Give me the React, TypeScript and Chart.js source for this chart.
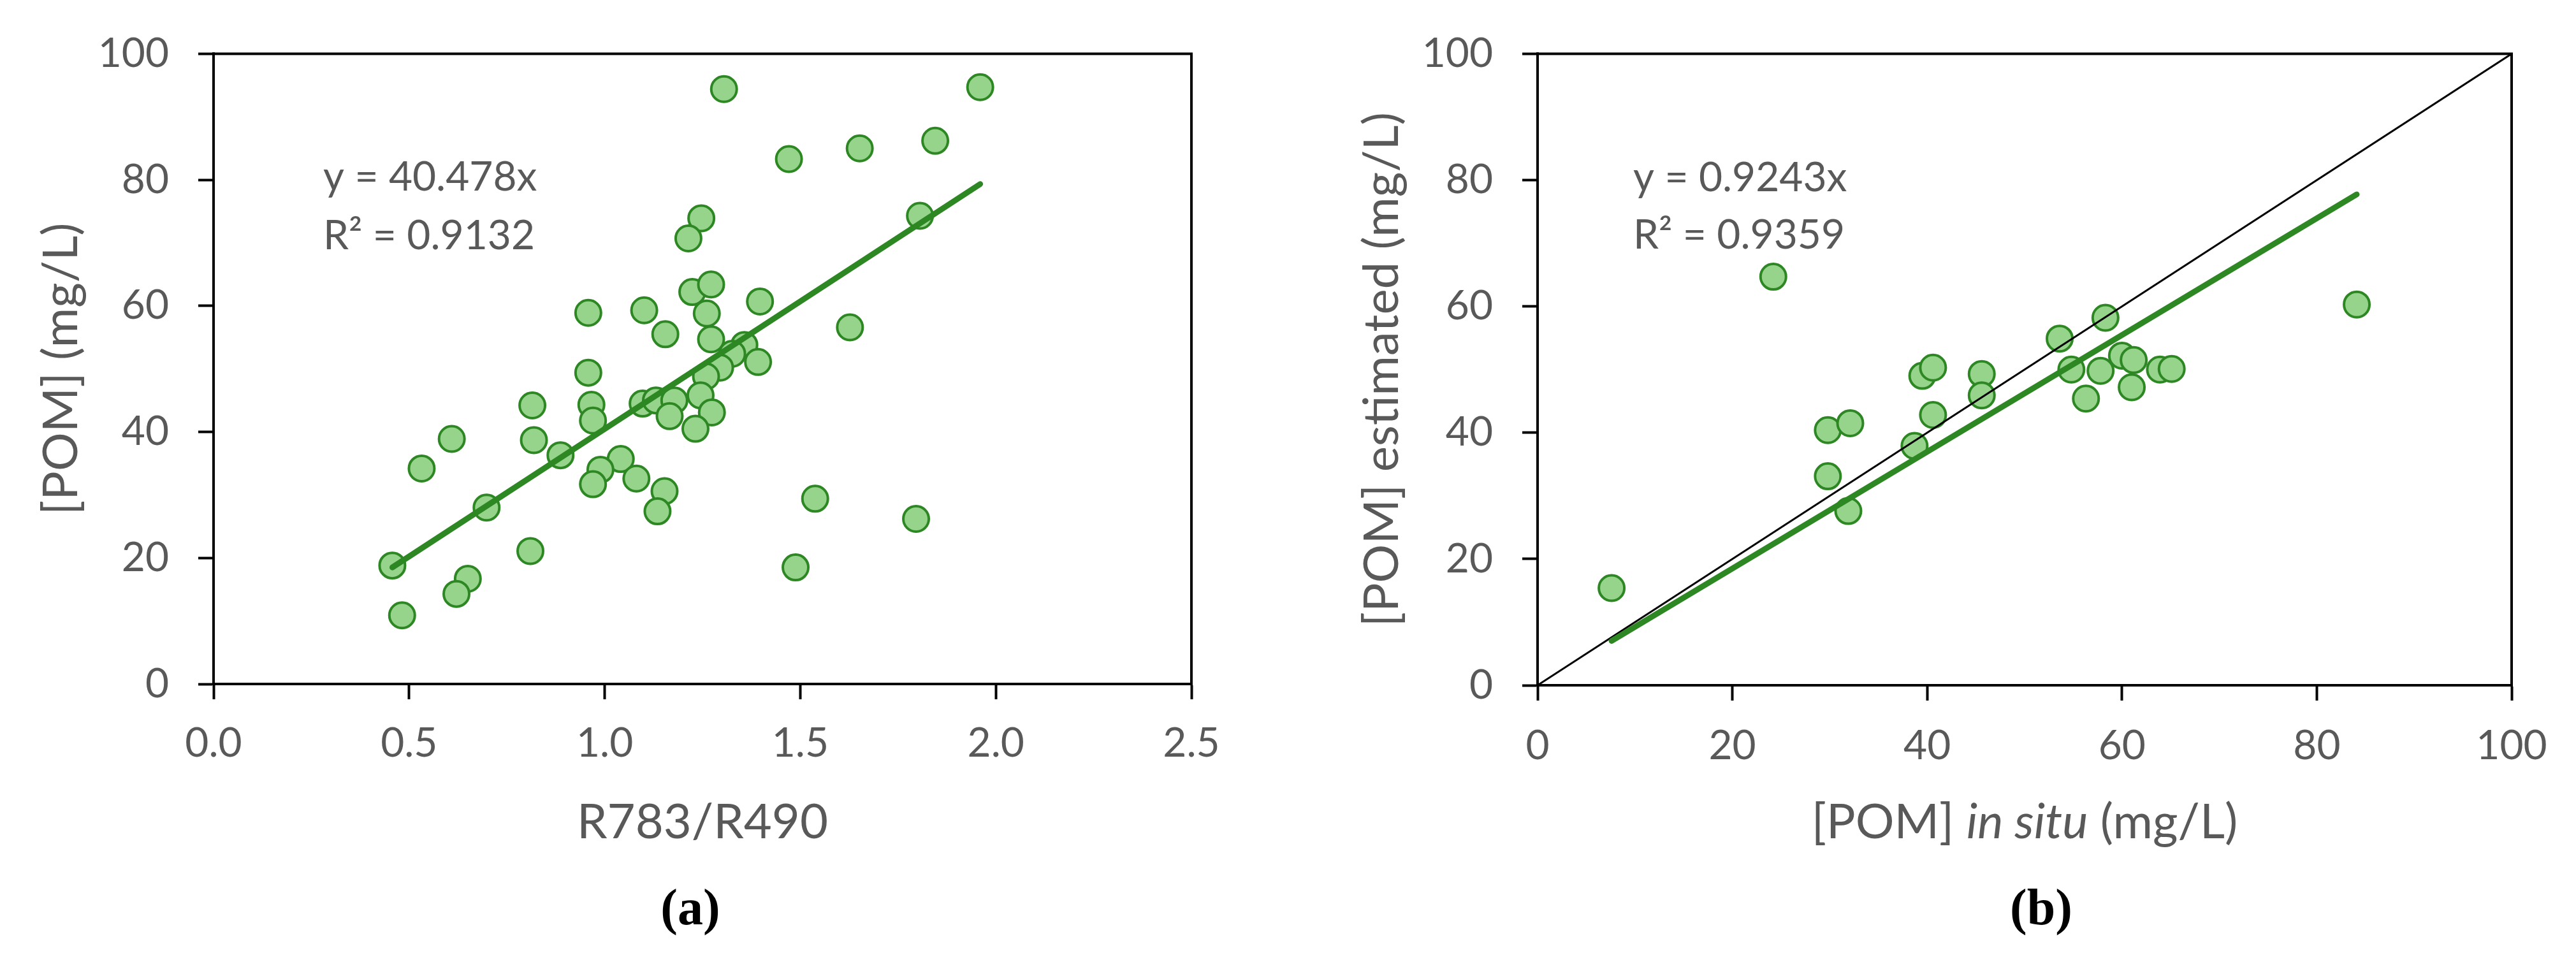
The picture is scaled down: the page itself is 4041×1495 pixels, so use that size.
import React, { useEffect, useRef } from "react";
import { Chart, registerables } from "chart.js";

Chart.register(...registerables);

// ---------- Panel (a): [POM] vs R783/R490 ----------
const ratioA = [
  1.305, 1.96, 1.471, 1.652, 1.845, 1.806, 1.247, 1.214, 1.224, 1.272, 1.397, 0.958, 1.101,
  1.261, 1.155, 1.272, 1.627, 1.357, 1.326, 1.295, 1.392, 1.259, 0.958, 1.245, 0.966, 0.815,
  1.097, 1.131, 1.178, 1.166, 1.274, 0.97, 1.232, 0.609, 0.819, 0.887, 1.041, 0.989, 0.532,
  0.97, 1.081, 1.153, 1.135, 0.698, 1.538, 1.796, 0.81, 0.457, 1.488, 0.65, 0.621, 0.482,
];
const pomA = [
  94.4, 94.7, 83.3, 85.0, 86.2, 74.3, 73.9, 70.7, 62.2, 63.4, 60.7, 58.9, 59.3,
  58.8, 55.5, 54.7, 56.6, 53.8, 52.4, 50.2, 51.1, 48.8, 49.4, 45.8, 44.3, 44.2,
  44.5, 45.0, 45.0, 42.5, 43.1, 41.8, 40.5, 38.9, 38.7, 36.3, 35.7, 34.0, 34.2,
  31.7, 32.6, 30.6, 27.4, 28.0, 29.4, 26.2, 21.1, 18.8, 18.5, 16.7, 14.3, 10.9,
];
const slopeA = 40.478;
const fitRangeA = [0.457, 1.96];
const equationA = ["y = 40.478x", "R\u00B2 = 0.9132"];
const xTitleA = [{ text: "R783/R490", italic: false }];
const yTitleA = "[POM] (mg/L)";
const captionA = "(a)";
const xAxisA = { min: 0, max: 2.5, step: 0.5, decimals: 1 };
const yAxisA = { min: 0, max: 100, step: 20, decimals: 0 };

// ---------- Panel (b): estimated vs in situ ----------
const insituB = [
  7.6, 24.2, 29.8, 32.1, 29.8, 31.9, 38.7, 39.5, 40.6, 40.6, 45.6, 45.6,
  53.6, 58.3, 54.8, 57.8, 56.3, 60.0, 61.2, 61.0, 63.9, 65.1, 84.1,
];
const estimatedB = [
  15.4, 64.7, 40.4, 41.5, 33.1, 27.6, 37.9, 49.0, 50.3, 42.8, 49.3, 45.9,
  54.9, 58.2, 50.0, 49.8, 45.4, 52.2, 51.5, 47.2, 50.0, 50.1, 60.3,
];
const slopeB = 0.9243;
const fitRangeB = [7.6, 84.1];
const identityRangeB = [0, 100];
const equationB = ["y = 0.9243x", "R\u00B2 = 0.9359"];
const xTitleB = [
  { text: "[POM] ", italic: false },
  { text: "in situ", italic: true },
  { text: " (mg/L)", italic: false },
];
const yTitleB = "[POM] estimated (mg/L)";
const captionB = "(b)";
const xAxisB = { min: 0, max: 100, step: 20, decimals: 0 };
const yAxisB = { min: 0, max: 100, step: 20, decimals: 0 };

// ---------- styles ----------
const FONT = "Lato";
const TEXT = "#595959";
const FILL = "#96D48C";
const EDGE = "#2D8723";
const TICK_SIZE = 64;
const TITLE_SIZE = 76;

function makeScale(ax: any, pad: number, horizontal: boolean, fitSize: number) {
  return {
    type: "linear",
    min: ax.min,
    max: ax.max,
    ticks: {
      stepSize: ax.step,
      autoSkip: false,
      maxRotation: 0,
      minRotation: 0,
      padding: pad,
      color: TEXT,
      font: { family: FONT, size: TICK_SIZE },
      callback: (v: any) => Number(v).toFixed(ax.decimals),
    },
    grid: {
      display: true,
      drawOnChartArea: false,
      drawTicks: true,
      tickLength: 24,
      tickWidth: 4,
      tickColor: "#000",
    },
    border: { display: true, color: "#000", width: 4 },
    afterFit: (s: any) => {
      if (horizontal) s.height = fitSize;
      else s.width = fitSize;
    },
  };
}

function decorPlugin(o: any) {
  return {
    id: "decor",
    afterDraw(chart: any) {
      const { ctx, chartArea: a } = chart;
      ctx.save();
      // frame
      ctx.strokeStyle = "#000";
      ctx.lineWidth = 4;
      ctx.strokeRect(a.left, a.top, a.right - a.left, a.bottom - a.top);
      // equation
      ctx.fillStyle = TEXT;
      ctx.textBaseline = "alphabetic";
      ctx.textAlign = "left";
      ctx.font = `${TICK_SIZE}px ${FONT}`;
      o.equation.forEach((t: string, i: number) =>
        ctx.fillText(t, a.left + o.eqDx, a.top + o.eqDy[i])
      );
      // x title (mixed styles)
      const fontOf = (it: boolean) => `${it ? "italic " : ""}${TITLE_SIZE}px ${FONT}`;
      let total = 0;
      const widths = o.xTitle.map((seg: any) => {
        ctx.font = fontOf(seg.italic);
        const w = ctx.measureText(seg.text).width;
        total += w;
        return w;
      });
      let x = (a.left + a.right) / 2 - total / 2;
      o.xTitle.forEach((seg: any, i: number) => {
        ctx.font = fontOf(seg.italic);
        ctx.fillText(seg.text, x, o.xTitleY);
        x += widths[i];
      });
      // y title (rotated)
      ctx.save();
      ctx.translate(o.yTitleX, (a.top + a.bottom) / 2);
      ctx.rotate(-Math.PI / 2);
      ctx.textAlign = "center";
      ctx.font = fontOf(false);
      ctx.fillText(o.yTitle, 0, 0);
      ctx.restore();
      // caption
      ctx.fillStyle = "#000";
      ctx.textAlign = "center";
      ctx.font = `bold 80px "Liberation Serif"`;
      ctx.fillText(o.caption, o.captionX, o.captionY);
      ctx.restore();
    },
  };
}

function Panel(props: any) {
  const ref = useRef<HTMLCanvasElement | null>(null);
  const { left, width, height, build } = props;
  useEffect(() => {
    if (!ref.current) return;
    const chart = new Chart(ref.current, build());
    return () => chart.destroy();
  }, []);
  return (
    <canvas
      ref={ref}
      width={width}
      height={height}
      style={{ position: "absolute", left, top: 0, width, height, display: "block" }}
    />
  );
}

const H = 1495;

function buildA(): any {
  return {
    type: "scatter",
    data: {
      datasets: [
        {
          type: "line",
          data: fitRangeA.map((x) => ({ x, y: slopeA * x })),
          borderColor: EDGE,
          borderWidth: 9,
          borderCapStyle: "round",
          pointRadius: 0,
          showLine: true,
          fill: false,
          order: 0,
        },
        {
          type: "scatter",
          data: ratioA.map((x, i) => ({ x, y: pomA[i] })),
          backgroundColor: FILL,
          borderColor: EDGE,
          borderWidth: 4,
          pointRadius: 20,
          pointHoverRadius: 20,
          order: 1,
        },
      ],
    },
    options: {
      animation: false,
      responsive: false,
      devicePixelRatio: 1,
      events: [],
      layout: { padding: { top: 80, right: 2000 - 1869, left: 0, bottom: 0 } },
      plugins: { legend: { display: false }, tooltip: { enabled: false } },
      scales: {
        x: makeScale(xAxisA, 31, true, H - 1073),
        y: makeScale(yAxisA, 46, false, 335),
      },
    },
    plugins: [
      decorPlugin({
        equation: equationA,
        eqDx: 172,
        eqDy: [215, 307],
        xTitle: xTitleA,
        xTitleY: 1315,
        yTitle: yTitleA,
        yTitleX: 121,
        caption: captionA,
        captionX: 1083,
        captionY: 1450,
      }),
    ],
  };
}

function buildB(): any {
  return {
    type: "scatter",
    data: {
      datasets: [
        {
          type: "line",
          data: fitRangeB.map((x) => ({ x, y: slopeB * x })),
          borderColor: EDGE,
          borderWidth: 9,
          borderCapStyle: "round",
          pointRadius: 0,
          showLine: true,
          fill: false,
          order: 0,
        },
        {
          type: "line",
          data: identityRangeB.map((v) => ({ x: v, y: v })),
          borderColor: "#000",
          borderWidth: 3,
          pointRadius: 0,
          showLine: true,
          fill: false,
          order: 1,
        },
        {
          type: "scatter",
          data: insituB.map((x, i) => ({ x, y: estimatedB[i] })),
          backgroundColor: FILL,
          borderColor: EDGE,
          borderWidth: 4,
          pointRadius: 20,
          pointHoverRadius: 20,
          order: 2,
        },
      ],
    },
    options: {
      animation: false,
      responsive: false,
      devicePixelRatio: 1,
      events: [],
      layout: { padding: { top: 80, right: 2041 - 1528 - 412, left: 0, bottom: 0 } },
      plugins: { legend: { display: false }, tooltip: { enabled: false } },
      scales: {
        x: makeScale(xAxisB, 33, true, H - 1075),
        y: makeScale(yAxisB, 46, false, 412),
      },
    },
    plugins: [
      decorPlugin({
        equation: equationB,
        eqDx: 150,
        eqDy: [216, 306],
        xTitle: xTitleB,
        xTitleY: 1315,
        yTitle: yTitleB,
        yTitleX: 193,
        caption: captionB,
        captionX: 1202,
        captionY: 1450,
      }),
    ],
  };
}

export default function App() {
  return (
    <div
      style={{
        position: "absolute",
        left: 0,
        top: 0,
        width: 4041,
        height: H,
        background: "#fff",
        overflow: "hidden",
      }}
    >
      <Panel left={0} width={2000} height={H} build={buildA} />
      <Panel left={2000} width={2041} height={H} build={buildB} />
    </div>
  );
}
